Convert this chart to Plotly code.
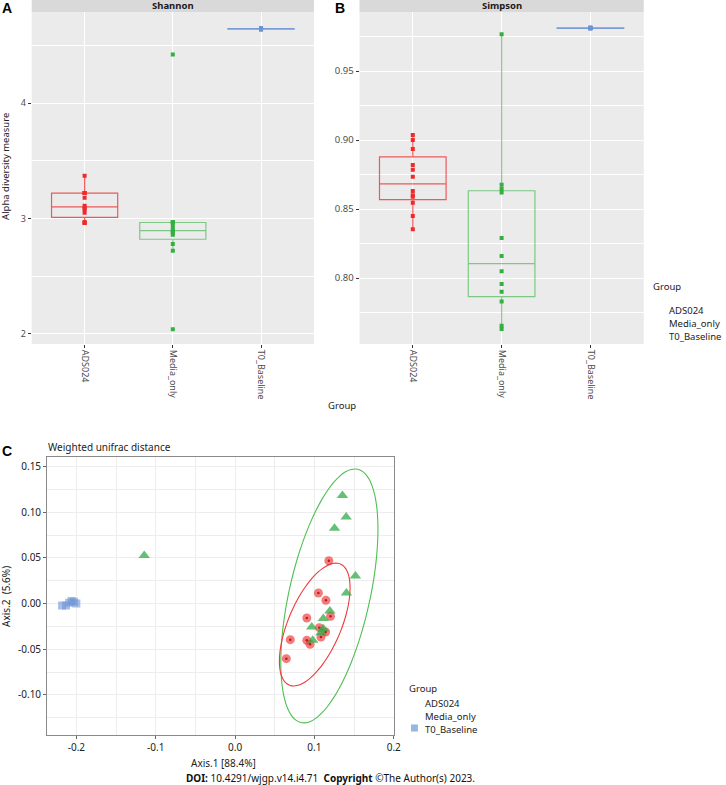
import numpy as np
import plotly.graph_objects as go

W, H = 726, 785
def fx(px): return px / W
def fy(py): return 1 - py / H

groups = ["ADS024", "Media_only", "T0_Baseline"]

# Alpha diversity (Shannon)
shannon_ads024 = [2.96, 2.96, 2.97, 3.05, 3.08, 3.09, 3.11, 3.18, 3.22, 3.22, 3.22, 3.37]
shannon_media = [2.04, 2.72, 2.78, 2.86, 2.88, 2.89, 2.90, 2.93, 2.96, 2.97, 2.97, 4.42]
shannon_t0 = [4.635, 4.64, 4.645, 4.65, 4.64, 4.645]

# Alpha diversity (Simpson)
simpson_ads024 = [0.8353, 0.845, 0.8546, 0.859, 0.860, 0.863, 0.8734, 0.8785, 0.882, 0.8935, 0.900, 0.9036]
simpson_media = [0.7630, 0.7654, 0.783, 0.790, 0.7957, 0.805, 0.816, 0.829, 0.862, 0.8645, 0.8676, 0.9766]
simpson_t0 = [0.981, 0.9815, 0.9812, 0.9808, 0.9813, 0.981]

# PCoA, weighted unifrac
pcoa_ads024_x = [0.1182, 0.1050, 0.1145, 0.0904, 0.1203, 0.1062, 0.1141, 0.1082, 0.0696, 0.0904, 0.0945, 0.0646]
pcoa_ads024_y = [0.0469, 0.0116, 0.0036, -0.0158, -0.0139, -0.0263, -0.0311, -0.0366, -0.0395, -0.0402, -0.0446, -0.0603]
pcoa_media_x = [-0.1145, 0.1353, 0.1400, 0.1253, 0.1517, 0.1403, 0.1195, 0.1112, 0.0966, 0.1112, 0.1082, 0.0979]
pcoa_media_y = [0.0526, 0.1184, 0.0948, 0.0826, 0.0302, 0.0116, -0.0081, -0.0164, -0.0257, -0.0274, -0.0318, -0.0402]
pcoa_t0_x = [-0.218, -0.213, -0.209, -0.206, -0.203, -0.200]
pcoa_t0_y = [-0.002, -0.002, 0.001, 0.003, 0.002, 0.000]

RED, GREEN, BLUE = "#EE2A2A", "#33B040", "#6E94D4"
BOXLINE = {"ADS024": "rgba(238,42,42,0.75)", "Media_only": "rgba(51,176,64,0.6)", "T0_Baseline": "rgba(110,148,212,0.9)"}
COL = {"ADS024": RED, "Media_only": GREEN, "T0_Baseline": BLUE}

FONT = "Noto Sans"

fig = go.Figure()

def add_boxes(vals_by_group, xa, ya):
    for g, vals in zip(groups, vals_by_group):
        fig.add_trace(go.Box(
            x=[g] * len(vals), y=vals, xaxis=xa, yaxis=ya,
            boxpoints="all", jitter=0, pointpos=0, width=0.75, whiskerwidth=0,
            quartilemethod="inclusive", fillcolor="rgba(0,0,0,0)",
            line=dict(color=BOXLINE[g], width=1.2),
            marker=dict(color=COL[g], size=4, symbol="square"),
            showlegend=False, hoverinfo="y"))

add_boxes([shannon_ads024, shannon_media, shannon_t0], "x", "y")
add_boxes([simpson_ads024, simpson_media, simpson_t0], "x2", "y2")

# --- ellipse via robust t covariance (as ggplot stat_ellipse type="t") ---
def cov_trob(x, nu=5, maxit=25, tol=0.01):
    n, p = x.shape
    wt = np.ones(n)
    loc = x.mean(axis=0)
    w = np.sqrt(wt)
    X = x - loc
    for _ in range(maxit):
        w0 = w
        X = x - loc
        U, d, Vt = np.linalg.svd(np.sqrt(w / w.sum())[:, None] * X, full_matrices=False)
        wX = X @ Vt.T @ np.diag(1 / d)
        Q = (wX ** 2).sum(axis=1)
        w = (wt * (nu + p)) / (nu + Q)
        loc = (w[:, None] * x).sum(axis=0) / w.sum()
        if np.all(np.abs(w - w0) < tol):
            break
    sw = np.sqrt(w)[:, None] * X
    cov = sw.T @ sw / wt.sum()
    return cov, loc

def ellipse(xs, ys, level=0.95, segments=51):
    pts = np.column_stack([xs, ys])
    cov, center = cov_trob(pts)
    dfd = len(xs) - 1
    qf = (dfd / 2) * ((1 - level) ** (-2 / dfd) - 1)
    radius = np.sqrt(2 * qf)
    L = np.linalg.cholesky(cov)
    ang = np.arange(segments + 1) * 2 * np.pi / segments
    circ = np.column_stack([np.cos(ang), np.sin(ang)])
    e = center + radius * (circ @ L.T)
    return e[:, 0], e[:, 1]

ex, ey = ellipse(pcoa_media_x, pcoa_media_y)
fig.add_trace(go.Scatter(x=ex, y=ey, mode="lines", line=dict(color="#4CC050", width=1.1, shape="spline"),
                         xaxis="x3", yaxis="y3", showlegend=False, hoverinfo="skip"))
ex, ey = ellipse(pcoa_ads024_x, pcoa_ads024_y)
fig.add_trace(go.Scatter(x=ex, y=ey, mode="lines", line=dict(color="#F03A3A", width=1.1, shape="spline"),
                         xaxis="x3", yaxis="y3", showlegend=False, hoverinfo="skip"))

fig.add_trace(go.Scatter(x=pcoa_t0_x, y=pcoa_t0_y, mode="markers", xaxis="x3", yaxis="y3",
                         marker=dict(symbol="square", size=8, color="rgba(110,148,212,0.6)"),
                         showlegend=False))
fig.add_trace(go.Scatter(x=pcoa_ads024_x, y=pcoa_ads024_y, mode="markers", xaxis="x3", yaxis="y3",
                         marker=dict(symbol="circle", size=9, color="rgba(240,50,50,0.65)"),
                         showlegend=False))
fig.add_trace(go.Scatter(x=pcoa_ads024_x, y=pcoa_ads024_y, mode="markers", xaxis="x3", yaxis="y3",
                         marker=dict(symbol="circle", size=2.5, color="rgba(170,20,20,0.9)"),
                         showlegend=False, hoverinfo="skip"))
fig.add_trace(go.Scatter(x=pcoa_media_x, y=pcoa_media_y, mode="markers", xaxis="x3", yaxis="y3",
                         marker=dict(symbol="triangle-up", size=10, color="rgba(50,170,70,0.75)"),
                         showlegend=False))

tickfont_top = dict(family=FONT, size=9, color="#4D4D4D")
cat_axis = dict(type="category", categoryorder="array", categoryarray=groups, range=[-0.6, 2.6],
                tickangle=90, showgrid=True, gridcolor="white", gridwidth=1.2,
                ticks="outside", ticklen=3, tickcolor="#333", tickfont=tickfont_top,
                zeroline=False, showline=False)

fig.update_layout(
    width=W, height=H, margin=dict(l=0, r=0, t=0, b=0),
    paper_bgcolor="white", plot_bgcolor="rgba(0,0,0,0)",
    xaxis=dict(domain=[fx(32), fx(317)], anchor="y", **cat_axis),
    yaxis=dict(domain=[fy(344), fy(12)], anchor="x", range=[1.913, 4.788],
               tickvals=[2, 3, 4], ticks="outside", ticklen=3, tickcolor="#333",
               tickfont=tickfont_top, showgrid=True, gridcolor="white", gridwidth=1.2,
               minor=dict(tickvals=[2.5, 3.5, 4.5], showgrid=True, gridcolor="white", gridwidth=0.6),
               zeroline=False),
    xaxis2=dict(domain=[fx(363), fx(650)], anchor="y2", **cat_axis),
    yaxis2=dict(domain=[fy(344), fy(12)], anchor="x2", range=[0.7522, 0.9928],
                tickvals=[0.80, 0.85, 0.90, 0.95], ticktext=["0.80", "0.85", "0.90", "0.95"],
                ticks="outside", ticklen=3, tickcolor="#333",
                tickfont=dict(family=FONT, size=9.5, color="#4D4D4D"),
                showgrid=True, gridcolor="white", gridwidth=1.2,
                minor=dict(tickvals=[0.775, 0.825, 0.875, 0.925, 0.975], showgrid=True,
                           gridcolor="white", gridwidth=0.6),
                zeroline=False),
    xaxis3=dict(domain=[fx(47.7), fx(398)], anchor="y3", range=[-0.2367, 0.2005],
                tickvals=[-0.2, -0.1, 0.0, 0.1, 0.2], ticktext=["-0.2", "-0.1", "0.0", "0.1", "0.2"],
                ticks="outside", ticklen=3, tickcolor="#666",
                tickfont=dict(family=FONT, size=10, color="#222"),
                showgrid=True, gridcolor="#EDEDED", gridwidth=1,
                minor=dict(dtick=0.05, tick0=0, showgrid=True, gridcolor="#EDEDED", gridwidth=1),
                zeroline=False, showline=True, mirror=True, linecolor="#8A8A8A", linewidth=1.3),
    yaxis3=dict(domain=[fy(735), fy(457)], anchor="x3", range=[-0.1439, 0.1606],
                tickvals=[-0.10, -0.05, 0.0, 0.05, 0.10, 0.15],
                ticktext=["-0.10", "-0.05", "0.00", "0.05", "0.10", "0.15"],
                ticks="outside", ticklen=3, tickcolor="#666",
                tickfont=dict(family=FONT, size=10, color="#222"),
                showgrid=True, gridcolor="#EDEDED", gridwidth=1,
                minor=dict(dtick=0.025, tick0=0, showgrid=True, gridcolor="#EDEDED", gridwidth=1),
                zeroline=False, showline=True, mirror=True, linecolor="#8A8A8A", linewidth=1.3),
)

shapes = [
    # panel backgrounds (ggplot grey)
    dict(type="rect", xref="paper", yref="paper", x0=fx(32), x1=fx(317), y0=fy(344), y1=fy(12),
         fillcolor="#EBEBEB", line=dict(width=0), layer="below"),
    dict(type="rect", xref="paper", yref="paper", x0=fx(363), x1=fx(650), y0=fy(344), y1=fy(12),
         fillcolor="#EBEBEB", line=dict(width=0), layer="below"),
    # facet strips
    dict(type="rect", xref="paper", yref="paper", x0=fx(32), x1=fx(317), y0=fy(12), y1=1.0,
         fillcolor="#D9D9D9", line=dict(width=0), layer="below"),
    dict(type="rect", xref="paper", yref="paper", x0=fx(363), x1=fx(650), y0=fy(12), y1=1.0,
         fillcolor="#D9D9D9", line=dict(width=0), layer="below"),
    # legend key of panel C
    dict(type="rect", xref="paper", yref="paper", x0=fx(415), x1=fx(422), y0=fy(731.5), y1=fy(724.5),
         fillcolor="rgba(110,148,212,0.7)", line=dict(width=0)),
]
fig.update_layout(shapes=shapes)

def ann(text, x, y, size=10, xanchor="center", yanchor="middle", angle=0, family=FONT, color="#222"):
    return dict(text=text, x=fx(x), y=fy(y), xref="paper", yref="paper", showarrow=False,
                xanchor=xanchor, yanchor=yanchor, textangle=angle,
                font=dict(family=family, size=size, color=color))

annotations = [
    ann("<b>A</b>", 0, 8, size=14, xanchor="left", family="Liberation Sans", color="black"),
    ann("<b>B</b>", 336, 8, size=14, xanchor="left", family="Liberation Sans", color="black"),
    ann("<b>C</b>", 0, 451, size=14, xanchor="left", family="Liberation Sans", color="black"),
    ann("<b>Shannon</b>", 174.5, 6, size=9.5, color="#1A1A1A"),
    ann("<b>Simpson</b>", 506.5, 6, size=9.5, color="#1A1A1A"),
    ann("Alpha diversity measure", 6, 166, size=9.5, angle=-90),
    ann("Group", 345, 405, size=9.5),
    ann("Group", 657, 287, size=9.5, xanchor="left"),
    ann("ADS024", 673, 310, size=9.5, xanchor="left"),
    ann("Media_only", 673, 323, size=9.5, xanchor="left"),
    ann("T0_Baseline", 673, 336, size=9.5, xanchor="left"),
    ann("Weighted unifrac distance", 46, 447, size=10, xanchor="left"),
    ann("Axis.2  (5.6%)", 6, 596, size=10, angle=-90),
    ann("Axis.1 [88.4%]", 226, 763, size=10),
    ann("Group", 411, 688, size=9.5, xanchor="left"),
    ann("ADS024", 427, 703, size=9.5, xanchor="left"),
    ann("Media_only", 427, 716, size=9.5, xanchor="left"),
    ann("T0_Baseline", 427, 729, size=9.5, xanchor="left"),
    ann("<b>DOI:</b> 10.4291/wjgp.v14.i4.71  <b>Copyright</b> ©The Author(s) 2023.", 334, 778,
        size=10, color="#111"),
]
fig.update_layout(annotations=annotations)

fig.write_html("out.html", config={"displayModeBar": False},
               post_script="document.body.style.margin='0';document.body.style.overflow='hidden';")
